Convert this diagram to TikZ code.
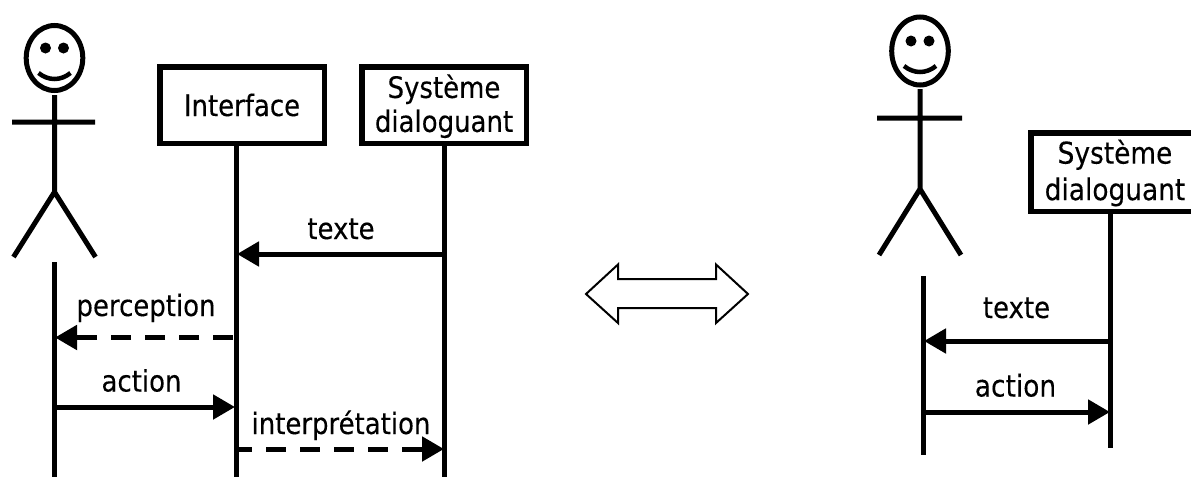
\documentclass[tikz,border=0pt]{standalone}
\usepackage{fontspec}
\setmainfont{DejaVu Sans}[FakeStretch=0.88,FakeBold=0.2]
\usetikzlibrary{arrows.meta}
\tikzset{
  x=1pt,y=-1pt,
  thick line/.style={line width=5pt,black},
  box/.style={draw=black,line width=5.5pt,fill=white,align=center,font=\fontsize{29.5}{34}\selectfont,inner sep=0pt,minimum height=76.5pt,minimum width=164.5pt},
  lbl/.style={font=\fontsize{29.5}{35}\selectfont,inner sep=0pt,anchor=base},
  msg/.style={line width=5pt,-{Triangle[length=22pt,width=24pt,sharp]}},
  dmsg/.style={msg,dash pattern=on 20pt off 14pt},
}
\newcommand{\actor}[9]{%
  % #1,#2 centre; #3 ry; #4 neck; #5 arm y; #6 hip; #7 leg end y; #8 arm left; #9 arm right
  \begin{scope}[shift={(#1,#2)}]
    \draw[thick line] (0,0) ellipse [x radius=28.3,y radius=#3];
    \fill (-9,-10) circle (5.5) (9,-10) circle (5.5);
    \draw[line width=4.5pt] (-16,15) .. controls (-6,23) and (6,23) .. (16,15);
    \draw[thick line] (0,#4) -- (0,#6) (#8,#5) -- (#9,#5) (-41,#7) -- (0,#6) -- (41,#7);
  \end{scope}}
\begin{document}
\begin{tikzpicture}
\useasboundingbox (0,0) rectangle (1191,477);
\actor{54.5}{58}{32.5}{37}{64}{134}{199}{-42.5}{40.5}
\actor{920}{51}{34}{38}{67}{138}{204}{-43}{42}
\node[box] (iface) at (242,105) {Interface};
\node[box] (sys) at (444,105) {\rule{0pt}{26pt}Système\\dialoguant};
\node[box,minimum width=168.5pt,minimum height=78.5pt,font=\fontsize{30}{36.5}\selectfont] (sysb) at (1115,172) {\rule{0pt}{26pt}Système\\dialoguant};
\coordinate (u1) at (54.5,262); \coordinate (u1e) at (54.5,477);
\coordinate (i1) at (236,146); \coordinate (i1e) at (236,477);
\coordinate (s1) at (444.5,146); \coordinate (s1e) at (444.5,477);
\draw[thick line] (u1) -- (u1e) (i1) -- (i1e) (s1) -- (s1e);
\coordinate (u2) at (923,276); \coordinate (u2e) at (923,455);
\coordinate (s2) at (1110,212); \coordinate (s2e) at (1110,448);
\draw[thick line] (u2) -- (u2e) (s2) -- (s2e);
\draw[msg] (444,254) -- (237,254);
\draw[dmsg,dash phase=31pt] (236,337.5) -- (55,337.5);
\draw[msg] (54,407) -- (235,407);
\draw[dmsg,dash phase=4pt] (236,449) -- (444,449);
\draw[msg] (1110,341) -- (924,341);
\draw[msg] (923,412) -- (1110,412);
\node[lbl] (t1) at (341,239) {texte};
\node[lbl] (p1) at (146,316) {perception};
\node[lbl] (a1) at (141.5,391.5) {action};
\node[lbl] (n1) at (341,434) {interprétation};
\node[lbl] (t2) at (1016.5,318) {texte};
\node[lbl,font=\fontsize{30}{36}\selectfont] (a2) at (1015.5,396.5) {action};
\draw[line width=2pt,fill=white,line join=miter] (586,294) -- (618,264.5) -- (618,279) -- (716,279) -- (716,264.5) -- (748,294) -- (716,323) -- (716,308) -- (618,308) -- (618,323) -- cycle;
\end{tikzpicture}
\end{document}
